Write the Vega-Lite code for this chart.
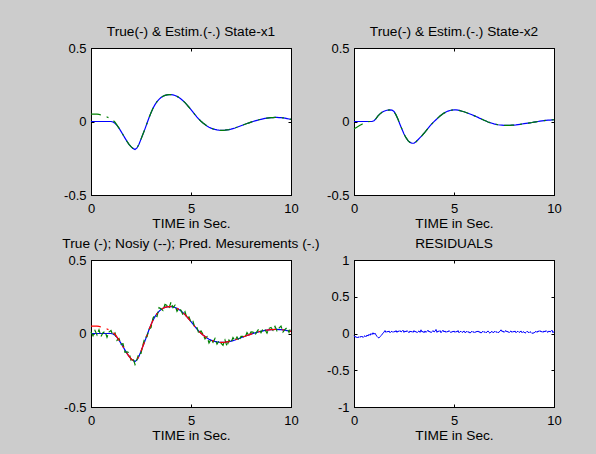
{
  "$schema": "https://vega.github.io/schema/vega-lite/v6.json",
  "background": "#cccccc",
  "padding": {"left": 61, "top": 24, "right": 36, "bottom": 11},
  "bounds": "flush",
  "columns": 2,
  "spacing": {"column": 63, "row": 65},
  "config": {
    "font": "Liberation Sans",
    "view": {"stroke": "#000000", "strokeWidth": 1, "fill": "#ffffff"},
    "axis": {"domain": true, "domainColor": "#000000", "domainWidth": 1, "grid": false, "ticks": true, "tickColor": "#000000", "tickSize": -3, "labelColor": "#000000", "labelFontSize": 13, "labelFont": "Liberation Sans", "titleFont": "Liberation Sans", "titleFontSize": 13.7, "titleFontWeight": "normal", "titleColor": "#000000", "labelFlush": false, "labelOverlap": false, "labelPadding": 8, "titlePadding": 1.5},
    "axisX": {"labelPadding": 10},
    "title": {"fontSize": 13.7, "fontWeight": "normal", "color": "#000000", "font": "Liberation Sans", "frame": "group", "offset": 3},
    "line": {"strokeWidth": 1.2}
  },
  "datasets": {
    "main": [
      {"t":0.0,"x1":0,"x1e":0.05,"x2":0,"x2e":-0.05,"ym":0.01},
      {"t":0.1,"x1":0,"x1e":0.05,"x2":0,"x2e":-0.042,"ym":-0.015},
      {"t":0.2,"x1":0,"x1e":0.05,"x2":0,"x2e":-0.034,"ym":0.02},
      {"t":0.3,"x1":0,"x1e":0.05,"x2":0,"x2e":-0.026,"ym":-0.01},
      {"t":0.4,"x1":0,"x1e":0.048,"x2":0,"x2e":-0.018,"ym":0.025},
      {"t":0.5,"x1":0,"x1e":0.044,"x2":0,"x2e":-0.01,"ym":-0.02},
      {"t":0.6,"x1":0,"x1e":0.04,"x2":0,"x2e":-0.005,"ym":0.005},
      {"t":0.7,"x1":0,"x1e":0.036,"x2":0,"x2e":-0.002,"ym":0.015},
      {"t":0.8,"x1":0,"x1e":0.031,"x2":0,"x2e":0.0,"ym":-0.025},
      {"t":0.9,"x1":0,"x1e":0.025,"x2":0,"x2e":0.0,"ym":0.01},
      {"t":1.0,"x1":0,"x1e":0.018,"x2":0.005,"x2e":0.005,"ym":0.02},
      {"t":1.1,"x1":-0.003,"x1e":0.008,"x2":0.02,"x2e":0.02,"ym":-0.013},
      {"t":1.2,"x1":-0.012,"x1e":-0.005,"x2":0.038,"x2e":0.038,"ym":0.003},
      {"t":1.3,"x1":-0.027,"x1e":-0.025,"x2":0.052,"x2e":0.052,"ym":-0.047},
      {"t":1.4,"x1":-0.045,"x1e":-0.045,"x2":0.063,"x2e":0.063,"ym":-0.035},
      {"t":1.5,"x1":-0.067,"x1e":-0.067,"x2":0.07,"x2e":0.07,"ym":-0.072},
      {"t":1.6,"x1":-0.09,"x1e":-0.09,"x2":0.075,"x2e":0.075,"ym":-0.07},
      {"t":1.7,"x1":-0.113,"x1e":-0.113,"x2":0.078,"x2e":0.078,"ym":-0.128},
      {"t":1.8,"x1":-0.135,"x1e":-0.135,"x2":0.079,"x2e":0.079,"ym":-0.125},
      {"t":1.9,"x1":-0.155,"x1e":-0.155,"x2":0.078,"x2e":0.078,"ym":-0.13},
      {"t":2.0,"x1":-0.171,"x1e":-0.171,"x2":0.068,"x2e":0.068,"ym":-0.181},
      {"t":2.1,"x1":-0.183,"x1e":-0.183,"x2":0.045,"x2e":0.045,"ym":-0.168},
      {"t":2.2,"x1":-0.19,"x1e":-0.19,"x2":0.015,"x2e":0.015,"ym":-0.21},
      {"t":2.3,"x1":-0.18,"x1e":-0.18,"x2":-0.02,"x2e":-0.02,"ym":-0.175},
      {"t":2.4,"x1":-0.155,"x1e":-0.155,"x2":-0.053,"x2e":-0.053,"ym":-0.135},
      {"t":2.5,"x1":-0.12,"x1e":-0.12,"x2":-0.085,"x2e":-0.085,"ym":-0.135},
      {"t":2.6,"x1":-0.085,"x1e":-0.085,"x2":-0.11,"x2e":-0.11,"ym":-0.075},
      {"t":2.7,"x1":-0.05,"x1e":-0.05,"x2":-0.13,"x2e":-0.13,"ym":-0.025},
      {"t":2.8,"x1":-0.012,"x1e":-0.012,"x2":-0.142,"x2e":-0.142,"ym":-0.022},
      {"t":2.9,"x1":0.025,"x1e":0.025,"x2":-0.148,"x2e":-0.148,"ym":0.03},
      {"t":3.0,"x1":0.06,"x1e":0.06,"x2":-0.148,"x2e":-0.148,"ym":0.04},
      {"t":3.1,"x1":0.09,"x1e":0.09,"x2":-0.138,"x2e":-0.138,"ym":0.105},
      {"t":3.2,"x1":0.115,"x1e":0.115,"x2":-0.124,"x2e":-0.124,"ym":0.125},
      {"t":3.3,"x1":0.135,"x1e":0.135,"x2":-0.11,"x2e":-0.11,"ym":0.115},
      {"t":3.4,"x1":0.151,"x1e":0.151,"x2":-0.096,"x2e":-0.096,"ym":0.176},
      {"t":3.5,"x1":0.163,"x1e":0.163,"x2":-0.08,"x2e":-0.08,"ym":0.168},
      {"t":3.6,"x1":0.172,"x1e":0.172,"x2":-0.063,"x2e":-0.063,"ym":0.157},
      {"t":3.7,"x1":0.178,"x1e":0.178,"x2":-0.046,"x2e":-0.046,"ym":0.198},
      {"t":3.8,"x1":0.181,"x1e":0.181,"x2":-0.03,"x2e":-0.03,"ym":0.191},
      {"t":3.9,"x1":0.183,"x1e":0.183,"x2":-0.015,"x2e":-0.015,"ym":0.173},
      {"t":4.0,"x1":0.183,"x1e":0.183,"x2":-0.001,"x2e":-0.001,"ym":0.213},
      {"t":4.1,"x1":0.181,"x1e":0.181,"x2":0.012,"x2e":0.012,"ym":0.176},
      {"t":4.2,"x1":0.177,"x1e":0.177,"x2":0.025,"x2e":0.025,"ym":0.192},
      {"t":4.3,"x1":0.171,"x1e":0.171,"x2":0.037,"x2e":0.037,"ym":0.151},
      {"t":4.4,"x1":0.163,"x1e":0.163,"x2":0.048,"x2e":0.048,"ym":0.173},
      {"t":4.5,"x1":0.153,"x1e":0.153,"x2":0.057,"x2e":0.057,"ym":0.158},
      {"t":4.6,"x1":0.141,"x1e":0.141,"x2":0.065,"x2e":0.065,"ym":0.126},
      {"t":4.7,"x1":0.128,"x1e":0.128,"x2":0.071,"x2e":0.071,"ym":0.148},
      {"t":4.8,"x1":0.113,"x1e":0.113,"x2":0.075,"x2e":0.075,"ym":0.103},
      {"t":4.9,"x1":0.097,"x1e":0.097,"x2":0.078,"x2e":0.078,"ym":0.112},
      {"t":5.0,"x1":0.08,"x1e":0.08,"x2":0.079,"x2e":0.079,"ym":0.075},
      {"t":5.1,"x1":0.063,"x1e":0.063,"x2":0.079,"x2e":0.079,"ym":0.083},
      {"t":5.2,"x1":0.046,"x1e":0.046,"x2":0.077,"x2e":0.077,"ym":0.036},
      {"t":5.3,"x1":0.03,"x1e":0.03,"x2":0.074,"x2e":0.074,"ym":0.04},
      {"t":5.4,"x1":0.015,"x1e":0.015,"x2":0.07,"x2e":0.07,"ym":-0.005},
      {"t":5.5,"x1":0.002,"x1e":0.002,"x2":0.066,"x2e":0.066,"ym":0.017},
      {"t":5.6,"x1":-0.01,"x1e":-0.01,"x2":0.061,"x2e":0.061,"ym":-0.005},
      {"t":5.7,"x1":-0.021,"x1e":-0.021,"x2":0.056,"x2e":0.056,"ym":-0.036},
      {"t":5.8,"x1":-0.031,"x1e":-0.031,"x2":0.051,"x2e":0.051,"ym":-0.021},
      {"t":5.9,"x1":-0.039,"x1e":-0.039,"x2":0.046,"x2e":0.046,"ym":-0.064},
      {"t":6.0,"x1":-0.045,"x1e":-0.045,"x2":0.04,"x2e":0.04,"ym":-0.04},
      {"t":6.1,"x1":-0.05,"x1e":-0.05,"x2":0.034,"x2e":0.034,"ym":-0.06},
      {"t":6.2,"x1":-0.054,"x1e":-0.054,"x2":0.028,"x2e":0.028,"ym":-0.034},
      {"t":6.3,"x1":-0.057,"x1e":-0.057,"x2":0.021,"x2e":0.021,"ym":-0.072},
      {"t":6.4,"x1":-0.059,"x1e":-0.059,"x2":0.015,"x2e":0.015,"ym":-0.049},
      {"t":6.5,"x1":-0.06,"x1e":-0.06,"x2":0.009,"x2e":0.009,"ym":-0.065},
      {"t":6.6,"x1":-0.06,"x1e":-0.06,"x2":0.003,"x2e":0.003,"ym":-0.08},
      {"t":6.7,"x1":-0.059,"x1e":-0.059,"x2":-0.003,"x2e":-0.003,"ym":-0.044},
      {"t":6.8,"x1":-0.057,"x1e":-0.057,"x2":-0.008,"x2e":-0.008,"ym":-0.087},
      {"t":6.9,"x1":-0.055,"x1e":-0.055,"x2":-0.012,"x2e":-0.012,"ym":-0.045},
      {"t":7.0,"x1":-0.052,"x1e":-0.052,"x2":-0.016,"x2e":-0.016,"ym":-0.062},
      {"t":7.1,"x1":-0.048,"x1e":-0.048,"x2":-0.019,"x2e":-0.019,"ym":-0.028},
      {"t":7.2,"x1":-0.044,"x1e":-0.044,"x2":-0.022,"x2e":-0.022,"ym":-0.049},
      {"t":7.3,"x1":-0.039,"x1e":-0.039,"x2":-0.024,"x2e":-0.024,"ym":-0.024},
      {"t":7.4,"x1":-0.034,"x1e":-0.034,"x2":-0.025,"x2e":-0.025,"ym":-0.049},
      {"t":7.5,"x1":-0.029,"x1e":-0.029,"x2":-0.026,"x2e":-0.026,"ym":-0.019},
      {"t":7.6,"x1":-0.024,"x1e":-0.024,"x2":-0.026,"x2e":-0.026,"ym":-0.019},
      {"t":7.7,"x1":-0.019,"x1e":-0.019,"x2":-0.026,"x2e":-0.026,"ym":-0.029},
      {"t":7.8,"x1":-0.014,"x1e":-0.014,"x2":-0.026,"x2e":-0.026,"ym":0.006},
      {"t":7.9,"x1":-0.009,"x1e":-0.009,"x2":-0.025,"x2e":-0.025,"ym":-0.014},
      {"t":8.0,"x1":-0.004,"x1e":-0.004,"x2":-0.024,"x2e":-0.024,"ym":0.011},
      {"t":8.1,"x1":0.0,"x1e":0.0,"x2":-0.023,"x2e":-0.023,"ym":0.01},
      {"t":8.2,"x1":0.004,"x1e":0.004,"x2":-0.021,"x2e":-0.021,"ym":-0.011},
      {"t":8.3,"x1":0.008,"x1e":0.008,"x2":-0.019,"x2e":-0.019,"ym":0.013},
      {"t":8.4,"x1":0.012,"x1e":0.012,"x2":-0.017,"x2e":-0.017,"ym":0.032},
      {"t":8.5,"x1":0.015,"x1e":0.015,"x2":-0.015,"x2e":-0.015,"ym":0.005},
      {"t":8.6,"x1":0.018,"x1e":0.018,"x2":-0.013,"x2e":-0.013,"ym":0.033},
      {"t":8.7,"x1":0.021,"x1e":0.021,"x2":-0.011,"x2e":-0.011,"ym":0.026},
      {"t":8.8,"x1":0.023,"x1e":0.023,"x2":-0.009,"x2e":-0.009,"ym":0.003},
      {"t":8.9,"x1":0.025,"x1e":0.025,"x2":-0.007,"x2e":-0.007,"ym":0.035},
      {"t":9.0,"x1":0.026,"x1e":0.026,"x2":-0.004,"x2e":-0.004,"ym":0.041},
      {"t":9.1,"x1":0.027,"x1e":0.027,"x2":-0.002,"x2e":-0.002,"ym":0.022},
      {"t":9.2,"x1":0.028,"x1e":0.028,"x2":0.0,"x2e":0.0,"ym":0.048},
      {"t":9.3,"x1":0.028,"x1e":0.028,"x2":0.002,"x2e":0.002,"ym":0.018},
      {"t":9.4,"x1":0.027,"x1e":0.027,"x2":0.004,"x2e":0.004,"ym":0.037},
      {"t":9.5,"x1":0.026,"x1e":0.026,"x2":0.006,"x2e":0.006,"ym":0.051},
      {"t":9.6,"x1":0.025,"x1e":0.025,"x2":0.008,"x2e":0.008,"ym":0.01},
      {"t":9.7,"x1":0.023,"x1e":0.023,"x2":0.009,"x2e":0.009,"ym":0.028},
      {"t":9.8,"x1":0.02,"x1e":0.02,"x2":0.01,"x2e":0.01,"ym":0.04},
      {"t":9.9,"x1":0.017,"x1e":0.017,"x2":0.011,"x2e":0.011,"ym":0.007},
      {"t":10.0,"x1":0.014,"x1e":0.014,"x2":0.012,"x2e":0.012,"ym":0.044}
    ],
    "res": [
      {"t":0.0,"r":-0.03},{"t":0.05,"r":-0.05},{"t":0.1,"r":-0.04},{"t":0.15,"r":-0.06},{"t":0.2,"r":-0.045},{"t":0.25,"r":-0.055},{"t":0.3,"r":-0.04},{"t":0.35,"r":-0.05},{"t":0.4,"r":-0.035},{"t":0.45,"r":-0.055},
      {"t":0.5,"r":-0.04},{"t":0.55,"r":-0.03},{"t":0.6,"r":-0.045},{"t":0.65,"r":-0.02},{"t":0.7,"r":-0.035},{"t":0.75,"r":-0.01},{"t":0.8,"r":-0.025},{"t":0.85,"r":0.0},{"t":0.9,"r":-0.015},{"t":0.95,"r":0.01},
      {"t":1.0,"r":-0.01},{"t":1.05,"r":0.005},{"t":1.1,"r":-0.02},{"t":1.15,"r":-0.04},{"t":1.2,"r":-0.055},{"t":1.25,"r":-0.06},{"t":1.3,"r":-0.045},{"t":1.35,"r":-0.03},{"t":1.4,"r":-0.01},{"t":1.45,"r":0.0},
      {"t":1.5,"r":0.02},{"t":1.55,"r":0.04},{"t":1.6,"r":0.015},{"t":1.65,"r":0.03},{"t":1.7,"r":0.02},{"t":1.75,"r":0.035},{"t":1.8,"r":0.01},{"t":1.85,"r":0.025},{"t":1.9,"r":0.03},{"t":1.95,"r":0.015},
      {"t":2.0,"r":0.03},{"t":2.05,"r":0.02},{"t":2.1,"r":0.04},{"t":2.15,"r":0.015},{"t":2.2,"r":0.035},{"t":2.25,"r":0.025},{"t":2.3,"r":0.04},{"t":2.35,"r":0.02},{"t":2.4,"r":0.03},{"t":2.45,"r":0.045},
      {"t":2.5,"r":0.015},{"t":2.55,"r":0.035},{"t":2.6,"r":0.02},{"t":2.65,"r":0.04},{"t":2.7,"r":0.025},{"t":2.75,"r":0.01},{"t":2.8,"r":0.035},{"t":2.85,"r":0.02},{"t":2.9,"r":0.03},{"t":2.95,"r":0.015},
      {"t":3.0,"r":0.04},{"t":3.05,"r":0.02},{"t":3.1,"r":0.03},{"t":3.15,"r":0.01},{"t":3.2,"r":0.025},{"t":3.25,"r":0.035},{"t":3.3,"r":0.015},{"t":3.35,"r":0.05},{"t":3.4,"r":0.02},{"t":3.45,"r":0.03},
      {"t":3.5,"r":0.01},{"t":3.55,"r":0.035},{"t":3.6,"r":0.015},{"t":3.65,"r":0.03},{"t":3.7,"r":0.045},{"t":3.75,"r":0.02},{"t":3.8,"r":0.03},{"t":3.85,"r":0.01},{"t":3.9,"r":0.025},{"t":3.95,"r":0.04},
      {"t":4.0,"r":0.02},{"t":4.05,"r":0.03},{"t":4.1,"r":0.055},{"t":4.15,"r":0.015},{"t":4.2,"r":0.035},{"t":4.25,"r":0.025},{"t":4.3,"r":0.04},{"t":4.35,"r":0.01},{"t":4.4,"r":0.03},{"t":4.45,"r":0.045},
      {"t":4.5,"r":0.02},{"t":4.55,"r":0.035},{"t":4.6,"r":0.015},{"t":4.65,"r":0.03},{"t":4.7,"r":0.02},{"t":4.75,"r":0.04},{"t":4.8,"r":0.025},{"t":4.85,"r":0.01},{"t":4.9,"r":0.03},{"t":4.95,"r":0.02},
      {"t":5.0,"r":0.035},{"t":5.05,"r":0.015},{"t":5.1,"r":0.03},{"t":5.15,"r":0.02},{"t":5.2,"r":0.04},{"t":5.25,"r":0.01},{"t":5.3,"r":0.025},{"t":5.35,"r":0.03},{"t":5.4,"r":0.015},{"t":5.45,"r":0.02},
      {"t":5.5,"r":0.035},{"t":5.55,"r":0.01},{"t":5.6,"r":0.02},{"t":5.65,"r":0.03},{"t":5.7,"r":0.015},{"t":5.75,"r":0.025},{"t":5.8,"r":0.005},{"t":5.85,"r":0.02},{"t":5.9,"r":0.03},{"t":5.95,"r":0.015},
      {"t":6.0,"r":0.025},{"t":6.05,"r":0.01},{"t":6.1,"r":0.03},{"t":6.15,"r":0.02},{"t":6.2,"r":0.035},{"t":6.25,"r":0.015},{"t":6.3,"r":0.025},{"t":6.35,"r":0.005},{"t":6.4,"r":0.02},{"t":6.45,"r":0.03},
      {"t":6.5,"r":0.015},{"t":6.55,"r":0.025},{"t":6.6,"r":0.01},{"t":6.65,"r":0.02},{"t":6.7,"r":0.035},{"t":6.75,"r":0.015},{"t":6.8,"r":0.005},{"t":6.85,"r":0.02},{"t":6.9,"r":0.03},{"t":6.95,"r":0.01},
      {"t":7.0,"r":0.02},{"t":7.05,"r":0.03},{"t":7.1,"r":0.015},{"t":7.15,"r":0.025},{"t":7.2,"r":0.01},{"t":7.25,"r":0.02},{"t":7.3,"r":0.03},{"t":7.35,"r":0.05},{"t":7.4,"r":0.025},{"t":7.45,"r":0.035},
      {"t":7.5,"r":0.015},{"t":7.55,"r":0.03},{"t":7.6,"r":0.04},{"t":7.65,"r":0.02},{"t":7.7,"r":0.03},{"t":7.75,"r":0.01},{"t":7.8,"r":0.025},{"t":7.85,"r":0.035},{"t":7.9,"r":0.015},{"t":7.95,"r":0.03},
      {"t":8.0,"r":0.02},{"t":8.05,"r":0.035},{"t":8.1,"r":0.01},{"t":8.15,"r":0.025},{"t":8.2,"r":0.03},{"t":8.25,"r":0.015},{"t":8.3,"r":0.02},{"t":8.35,"r":0.035},{"t":8.4,"r":0.01},{"t":8.45,"r":0.025},
      {"t":8.5,"r":0.02},{"t":8.55,"r":0.005},{"t":8.6,"r":0.015},{"t":8.65,"r":0.03},{"t":8.7,"r":0.02},{"t":8.75,"r":0.01},{"t":8.8,"r":0.025},{"t":8.85,"r":0.015},{"t":8.9,"r":0.0},{"t":8.95,"r":0.01},
      {"t":9.0,"r":0.005},{"t":9.05,"r":0.02},{"t":9.1,"r":0.03},{"t":9.15,"r":0.015},{"t":9.2,"r":0.035},{"t":9.25,"r":0.025},{"t":9.3,"r":0.04},{"t":9.35,"r":0.02},{"t":9.4,"r":0.03},{"t":9.45,"r":0.015},
      {"t":9.5,"r":0.035},{"t":9.55,"r":0.02},{"t":9.6,"r":0.04},{"t":9.65,"r":0.025},{"t":9.7,"r":0.015},{"t":9.75,"r":0.035},{"t":9.8,"r":0.02},{"t":9.85,"r":0.03},{"t":9.9,"r":0.045},{"t":9.95,"r":0.01},
      {"t":10.0,"r":0.03}
    ]
  },
  "concat": [
    {
      "width": 200, "height": 147,
      "title": "True(-) & Estim.(-.) State-x1",
      "data": {"name": "main"},
      "layer": [
        {"mark": {"type": "line", "color": "#0000ff"},
         "encoding": {
           "x": {"field": "t", "type": "quantitative", "scale": {"domain": [0, 10], "nice": false}, "axis": {"orient": "bottom", "values": [0, 5, 10], "title": "TIME in Sec."}},
           "y": {"field": "x1", "type": "quantitative", "scale": {"domain": [-0.5, 0.5], "nice": false, "zero": false}, "axis": {"orient": "left", "values": [-0.5, 0, 0.5], "title": null, "labelExpr": "datum.value + ''"}}}},
        {"mark": {"type": "line", "color": "#008000", "strokeDash": [10, 6, 2, 6]},
         "encoding": {
           "x": {"field": "t", "type": "quantitative", "axis": {"orient": "top", "values": [0, 5, 10], "labels": false, "title": null}},
           "y": {"field": "x1e", "type": "quantitative", "axis": {"orient": "right", "values": [-0.5, 0, 0.5], "labels": false, "title": null}}}}
      ],
      "resolve": {"axis": {"x": "independent", "y": "independent"}}
    },
    {
      "width": 200, "height": 147,
      "title": "True(-) & Estim.(-.) State-x2",
      "data": {"name": "main"},
      "layer": [
        {"mark": {"type": "line", "color": "#0000ff"},
         "encoding": {
           "x": {"field": "t", "type": "quantitative", "scale": {"domain": [0, 10], "nice": false}, "axis": {"orient": "bottom", "values": [0, 5, 10], "title": "TIME in Sec."}},
           "y": {"field": "x2", "type": "quantitative", "scale": {"domain": [-0.5, 0.5], "nice": false, "zero": false}, "axis": {"orient": "left", "values": [-0.5, 0, 0.5], "title": null, "labelExpr": "datum.value + ''"}}}},
        {"mark": {"type": "line", "color": "#008000", "strokeDash": [10, 6, 2, 6]},
         "encoding": {
           "x": {"field": "t", "type": "quantitative", "axis": {"orient": "top", "values": [0, 5, 10], "labels": false, "title": null}},
           "y": {"field": "x2e", "type": "quantitative", "axis": {"orient": "right", "values": [-0.5, 0, 0.5], "labels": false, "title": null}}}}
      ],
      "resolve": {"axis": {"x": "independent", "y": "independent"}}
    },
    {
      "width": 200, "height": 147,
      "title": "True (-); Nosiy (--); Pred. Mesurements (-.)",
      "data": {"name": "main"},
      "layer": [
        {"mark": {"type": "line", "color": "#0000ff"},
         "encoding": {
           "x": {"field": "t", "type": "quantitative", "scale": {"domain": [0, 10], "nice": false}, "axis": {"orient": "bottom", "values": [0, 5, 10], "title": "TIME in Sec."}},
           "y": {"field": "x1", "type": "quantitative", "scale": {"domain": [-0.5, 0.5], "nice": false, "zero": false}, "axis": {"orient": "left", "values": [-0.5, 0, 0.5], "title": null, "labelExpr": "datum.value + ''"}}}},
        {"mark": {"type": "line", "color": "#008000", "strokeDash": [6, 3]},
         "encoding": {
           "x": {"field": "t", "type": "quantitative", "axis": {"orient": "top", "values": [0, 5, 10], "labels": false, "title": null}},
           "y": {"field": "ym", "type": "quantitative", "axis": {"orient": "right", "values": [-0.5, 0, 0.5], "labels": false, "title": null}}}},
        {"mark": {"type": "line", "color": "#ff0000", "strokeDash": [10, 6, 2, 6]},
         "encoding": {
           "x": {"field": "t", "type": "quantitative", "axis": null},
           "y": {"field": "x1e", "type": "quantitative", "axis": null}}}
      ],
      "resolve": {"axis": {"x": "independent", "y": "independent"}}
    },
    {
      "width": 200, "height": 147,
      "title": "RESIDUALS",
      "data": {"name": "res"},
      "layer": [
        {"mark": {"type": "line", "color": "#0000ff", "strokeWidth": 1},
         "encoding": {
           "x": {"field": "t", "type": "quantitative", "scale": {"domain": [0, 10], "nice": false}, "axis": {"orient": "bottom", "values": [0, 5, 10], "title": "TIME in Sec."}},
           "y": {"field": "r", "type": "quantitative", "scale": {"domain": [-1, 1], "nice": false, "zero": false}, "axis": {"orient": "left", "values": [-1, -0.5, 0, 0.5, 1], "title": null, "labelExpr": "datum.value + ''"}}}},
        {"mark": {"type": "line", "opacity": 0},
         "encoding": {
           "x": {"field": "t", "type": "quantitative", "axis": {"orient": "top", "values": [0, 5, 10], "labels": false, "title": null}},
           "y": {"field": "r", "type": "quantitative", "axis": {"orient": "right", "values": [-1, -0.5, 0, 0.5, 1], "labels": false, "title": null}}}}
      ],
      "resolve": {"axis": {"x": "independent", "y": "independent"}}
    }
  ]
}
